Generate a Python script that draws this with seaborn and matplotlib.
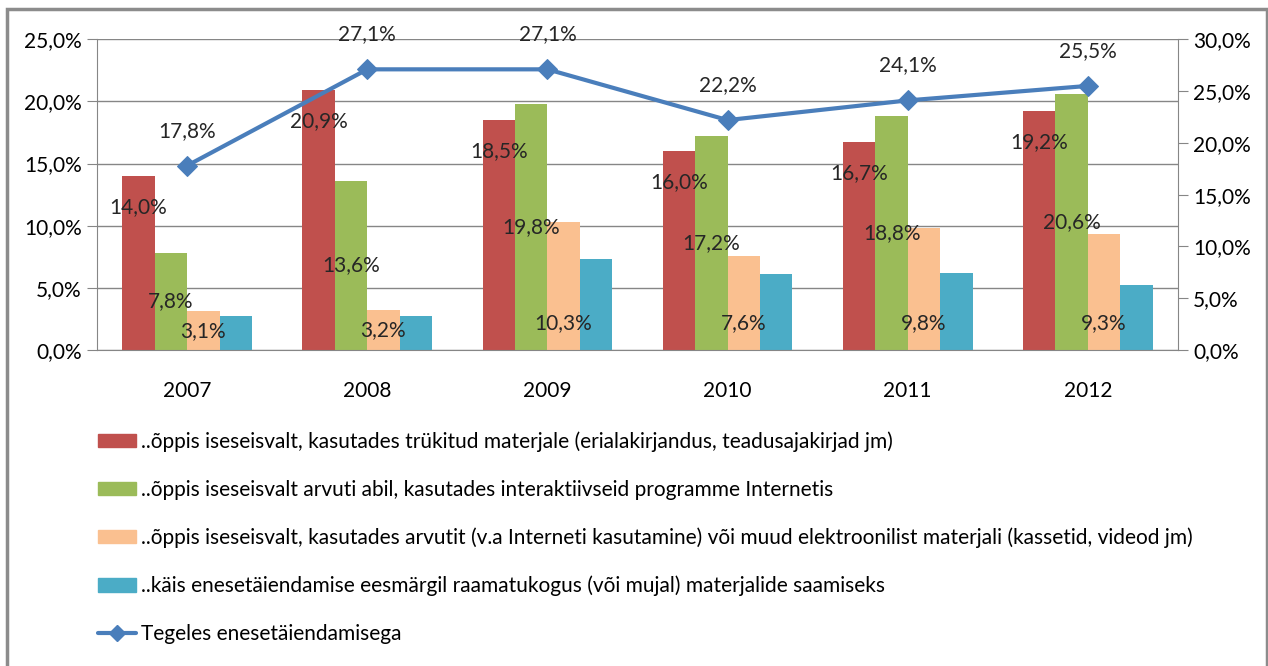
import numpy as np
import pandas as pd
import matplotlib
matplotlib.use("Agg")
import matplotlib.pyplot as plt
import seaborn as sns
from matplotlib.lines import Line2D
from matplotlib.patches import Rectangle
from matplotlib.ticker import FuncFormatter, FixedLocator
import warnings
warnings.filterwarnings("ignore")

sns.set_style("white")
plt.rcParams['font.family'] = ['Lato', 'DejaVu Sans']

years = ["2007", "2008", "2009", "2010", "2011", "2012"]
series_names = [
    "..õppis iseseisvalt, kasutades trükitud materjale (erialakirjandus, teadusajakirjad jm)",
    "..õppis iseseisvalt arvuti abil, kasutades interaktiivseid programme Internetis",
    "..õppis iseseisvalt, kasutades arvutit (v.a Interneti kasutamine) või muud elektroonilist materjali (kassetid, videod jm)",
    "..käis enesetäiendamise eesmärgil raamatukogus (või mujal) materjalide saamiseks",
]
printed = [14.0, 20.9, 18.5, 16.0, 16.7, 19.2]
internet = [7.8, 13.6, 19.8, 17.2, 18.8, 20.6]
electronic = [3.1, 3.2, 10.3, 7.6, 9.8, 9.3]
library = [2.7, 2.7, 7.3, 6.1, 6.2, 5.2]
line_name = "Tegeles enesetäiendamisega"
line_vals = [17.8, 27.1, 27.1, 22.2, 24.1, 25.5]

colors = ["#C0504D", "#9BBB59", "#FAC090", "#4BACC6"]
line_color = "#4A7EBB"
grid_c = "#868686"
FS = 15

def pct(v, pos=None):
    return f"{v:.1f}%".replace(".", ",")

df = pd.DataFrame({
    "year": years * 4,
    "series": np.repeat(series_names, len(years)),
    "value": printed + internet + electronic + library,
})

fig = plt.figure(figsize=(12.68, 6.66), dpi=100)
ax = fig.add_axes([97 / 1268, 1 - 350 / 666, (1178 - 97) / 1268, (350 - 39.3) / 666])

sns.barplot(data=df, x="year", y="value", hue="series", hue_order=series_names,
            palette=dict(zip(series_names, colors)), width=0.72, saturation=1,
            linewidth=0, ax=ax, legend=False)

ax.set_xlim(-0.5, 5.5)
ax.set_ylim(0, 25)
ax.set_yticks(np.arange(0, 25.1, 5))
ax.yaxis.set_major_formatter(FuncFormatter(pct))
ax.yaxis.grid(True, color=grid_c, lw=1)
ax.set_axisbelow(True)
ax.set_xlabel("")
ax.set_ylabel("")
ax.xaxis.set_minor_locator(FixedLocator(np.arange(-0.5, 6, 1)))
ax.tick_params(axis="x", which="major", length=0, pad=22, labelsize=FS, labelcolor="black")
ax.tick_params(axis="x", which="minor", length=7, color=grid_c, direction="out")
ax.tick_params(axis="y", length=7, color=grid_c, direction="out", labelsize=FS, pad=4,
               labelcolor="black")
for s in ["left", "bottom"]:
    ax.spines[s].set_color(grid_c)
ax.spines["top"].set_visible(False)
ax.spines["right"].set_visible(False)

px = 72 / 100  # pixel -> points
cont = ax.containers
# red: inside end
for p, v in zip(cont[0].patches, printed):
    ax.annotate(pct(v), (p.get_x() + p.get_width() / 2, p.get_height()),
                xytext=(0, -31 * px), textcoords="offset points",
                ha="center", va="center", fontsize=FS)
# green: center
for p, v in zip(cont[1].patches, internet):
    ax.annotate(pct(v), (p.get_x() + p.get_width() / 2, p.get_height() / 2),
                ha="center", va="center", fontsize=FS)
# peach: inside base
for p, v in zip(cont[2].patches, electronic):
    h_px = p.get_height() / 25 * 310.7
    off = min(h_px / 2, 27)
    ax.annotate(pct(v), (p.get_x() + p.get_width() / 2, 0),
                xytext=(0, off * px), textcoords="offset points",
                ha="center", va="center", fontsize=FS)

ax2 = ax.twinx()
sns.lineplot(x=np.arange(len(years)), y=line_vals, ax=ax2, color=line_color,
             lw=3.0, marker="D", markersize=10, markeredgecolor=line_color)
ax2.set_ylim(0, 30)
ax2.set_yticks(np.arange(0, 30.1, 5))
ax2.yaxis.set_major_formatter(FuncFormatter(pct))
ax2.tick_params(axis="y", length=7, color=grid_c, direction="out", labelsize=FS, pad=4,
                labelcolor="black")
ax2.spines["right"].set_color(grid_c)
for s in ["left", "top", "bottom"]:
    ax2.spines[s].set_visible(False)
for i, v in enumerate(line_vals):
    ax2.annotate(pct(v), (i, v), xytext=(0, 35 * px), textcoords="offset points",
                 ha="center", va="center", fontsize=FS)

handles = [Rectangle((0, 0), 1, 1, color=c) for c in colors]
handles.append(Line2D([], [], color=line_color, lw=3.0, marker="D", markersize=8))
fig.legend(handles, series_names + [line_name], loc="upper left",
           bbox_to_anchor=(88 / 1268, 1 - 421 / 666), frameon=False, fontsize=FS,
           labelspacing=1.33, handlelength=1.8, handleheight=0.6, handletextpad=0.25,
           borderpad=0, labelcolor="black")

fig.patches.append(Rectangle((7 / 1268, -0.02), 1260 / 1268, 1 - 9 / 666 + 0.02,
                             transform=fig.transFigure, fill=False,
                             edgecolor="#8c8c8c", lw=2.5, zorder=-1))

fig.savefig("out.png", dpi=100)
